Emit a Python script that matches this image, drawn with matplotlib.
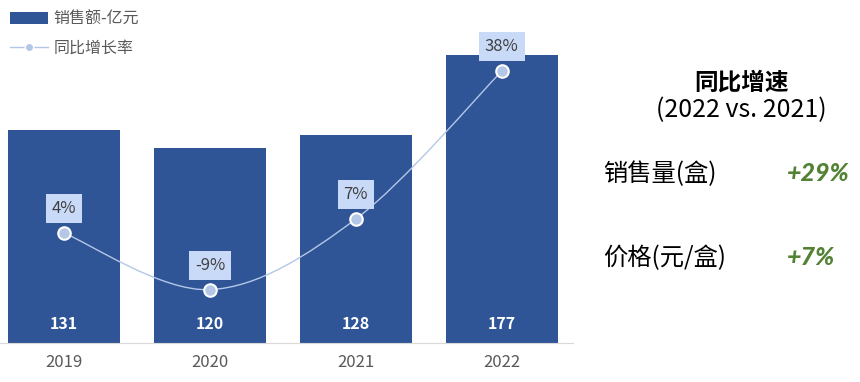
import matplotlib
matplotlib.use("Agg")
import matplotlib.pyplot as plt
from matplotlib.path import Path
from matplotlib.patches import PathPatch, Patch
from matplotlib.lines import Line2D

plt.rcParams['font.family'] = ['Noto Sans CJK SC', 'DejaVu Sans']

years = ['2019', '2020', '2021', '2022']
sales = [131, 120, 128, 177]              # 销售额, 亿元
growth = [3.7, -8.4, 6.7, 38.3]           # 同比增长率, %
growth_labels = ['4%', '-9%', '7%', '38%']

BAR = '#2f5597'
LINE = '#b4c7e7'
GREY = '#595959'
GREEN = '#548235'

fig = plt.figure(figsize=(8.6, 3.82), dpi=100)
ax = fig.add_axes([0.0, 0.1021, 0.666, 0.898])
x = list(range(len(years)))

bars = ax.bar(x, sales, width=0.767, color=BAR, zorder=2)
ax.set_xlim(-0.438, 3.486)
ax.set_ylim(0, 211)
ax.set_xticks(x)
ax.set_xticklabels(years, fontsize=12, color=GREY)
ax.tick_params(axis='x', length=0, pad=8)
ax.set_yticks([])
for s in ['top', 'right', 'left']:
    ax.spines[s].set_visible(False)
ax.spines['bottom'].set_color('#d9d9d9')

for xi, v in zip(x, sales):
    ax.annotate(str(v), (xi, 0), xytext=(0, 14), textcoords='offset points',
                ha='center', va='center', color='white', fontsize=11.5, fontweight='bold')

# growth line on a second axis, smoothed with bezier segments through the points
ax2 = ax.twinx()
ax2.set_ylim(-19.8, 53.5)
ax2.set_yticks([])
for s in ax2.spines.values():
    s.set_visible(False)

pts = list(zip(x, growth))
verts = [pts[0]]
codes = [Path.MOVETO]
for i in range(len(pts) - 1):
    p0 = pts[max(i - 1, 0)]
    p1 = pts[i]
    p2 = pts[i + 1]
    p3 = pts[min(i + 2, len(pts) - 1)]
    c1 = (p1[0] + (p2[0] - p0[0]) / 6, p1[1] + (p2[1] - p0[1]) / 6)
    c2 = (p2[0] - (p3[0] - p1[0]) / 6, p2[1] - (p3[1] - p1[1]) / 6)
    verts += [c1, c2, p2]
    codes += [Path.CURVE4] * 3
ax2.add_patch(PathPatch(Path(verts, codes), facecolor='none', edgecolor=LINE, lw=1.0, zorder=3))
ax2.plot(x, growth, linestyle='none', marker='o', markersize=9, markerfacecolor=LINE,
         markeredgecolor='white', markeredgewidth=1.5, zorder=4)

for xi, v, lab in zip(x, growth, growth_labels):
    ax2.annotate(lab, (xi, v), xytext=(0, 17.5), textcoords='offset points',
                 ha='center', va='center', fontsize=12, color='#404040',
                 bbox=dict(boxstyle='square,pad=0.35', facecolor='#c9daf8', edgecolor='none'))

handles = [Patch(facecolor=BAR, edgecolor='none'),
           Line2D([0], [0], color=LINE, lw=1, marker='o', markersize=6,
                  markerfacecolor=LINE, markeredgecolor='white')]
leg = fig.legend(handles, ['销售额-亿元', '同比增长率'], loc='upper left',
                 bbox_to_anchor=(-0.005, 1.01), frameon=False, fontsize=11.5,
                 handlelength=2.4, handleheight=0.8, handletextpad=0.3, labelspacing=0.75)
for t in leg.get_texts():
    t.set_color(GREY)

# summary on the right
fig.text(0.862, 0.783, '同比增速', ha='center', va='center', fontsize=17, fontweight='bold', color='black')
fig.text(0.862, 0.712, '(2022 vs. 2021)', ha='center', va='center', fontsize=18, color='black')
fig.text(0.701, 0.545, '销售量(盒)', ha='left', va='center', fontsize=17.5, color='black')
fig.text(0.701, 0.325, '价格(元/盒)', ha='left', va='center', fontsize=17.5, color='black')
fig.text(0.988, 0.545, '+29%', ha='right', va='center', fontsize=18, fontweight='black',
         fontstyle='italic', family=['Lato', 'DejaVu Sans'], color=GREEN)
fig.text(0.971, 0.325, '+7%', ha='right', va='center', fontsize=18, fontweight='black',
         fontstyle='italic', family=['Lato', 'DejaVu Sans'], color=GREEN)

fig.savefig('out.png', dpi=100)
